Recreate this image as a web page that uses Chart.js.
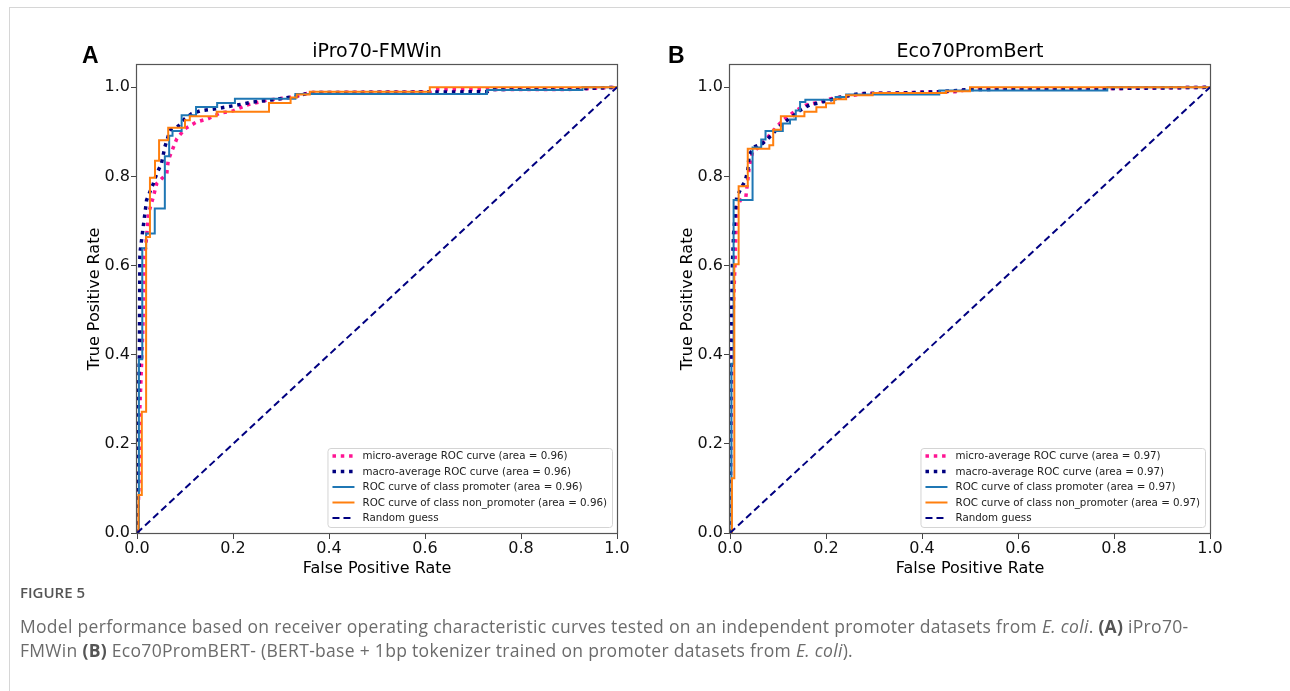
<!DOCTYPE html>
<html>
<head>
<meta charset="utf-8">
<script src="https://cdn.jsdelivr.net/npm/chart.js"></script>
<style>
  html, body { margin: 0; padding: 0; background: #fff; }
  #page { position: relative; width: 1290px; height: 691px; overflow: hidden; }
  #frame { position: absolute; left: 9px; top: 7px; right: 0; bottom: 0;
           border-top: 1px solid #d6d6d6; border-left: 1px solid #d6d6d6; }
  canvas { position: absolute; top: 0; }
  #caption { position: absolute; left: 20px; top: 580px; width: 1260px;
             font-family: "Open Sans", sans-serif; color: #6b6b6b; }
  #caption .head { font-size: 15px; font-weight: 600; color: #555; line-height: 24px; }
  #caption .body { font-size: 17.5px; letter-spacing: 0.3px; line-height: 24px; margin-top: 10px; white-space: nowrap; }
  #caption b { color: #555; }
</style>
</head>
<body>
<div id="page">
  <div id="frame"></div>
  <canvas id="chartA" width="645" height="600" style="left:0px"></canvas>
  <canvas id="chartB" width="645" height="600" style="left:645px"></canvas>
  <div id="caption">
    <div class="head">FIGURE 5</div>
    <div class="body">Model performance based on receiver operating characteristic curves tested on an independent promoter datasets from <i>E. coli</i>. <b>(A)</b> iPro70-<br>FMWin <b>(B)</b> Eco70PromBERT- (BERT-base + 1bp tokenizer trained on promoter datasets from <i>E. coli</i>).</div>
  </div>
</div>
<script>
// tick labels
const xTickValues = [0, 0.2, 0.4, 0.6, 0.8, 1.0];
const yTickValues = [0, 0.2, 0.4, 0.6, 0.8, 1.0];

const seriesNames = ['micro-average ROC curve', 'macro-average ROC curve',
  'ROC curve of class promoter', 'ROC curve of class non_promoter', 'Random guess'];

// --- panel A: iPro70-FMWin ---
const areasA = [0.96, 0.96, 0.96, 0.96];
const microA_fpr = [0, 0.004, 0.006, 0.012, 0.016, 0.02, 0.024, 0.034, 0.041, 0.062, 0.065, 0.076, 0.083, 0.1, 0.124, 0.149, 0.173, 0.2, 0.228, 0.27, 0.326, 0.36, 0.61, 0.62, 0.9, 1];
const microA_tpr = [0, 0.1, 0.28, 0.45, 0.62, 0.664, 0.717, 0.754, 0.784, 0.806, 0.836, 0.866, 0.885, 0.907, 0.922, 0.93, 0.942, 0.947, 0.96, 0.971, 0.978, 0.988, 0.99, 0.995, 0.995, 1];
const macroA_fpr = [0, 0.002, 0.005, 0.006, 0.013, 0.02, 0.034, 0.041, 0.051, 0.058, 0.069, 0.086, 0.1, 0.114, 0.131, 0.166, 0.208, 0.242, 0.284, 0.333, 0.36, 0.73, 0.74, 0.93, 1];
const macroA_tpr = [0, 0.25, 0.4, 0.627, 0.687, 0.747, 0.784, 0.806, 0.829, 0.866, 0.904, 0.913, 0.93, 0.941, 0.947, 0.952, 0.96, 0.967, 0.972, 0.98, 0.988, 0.99, 0.995, 0.997, 1];
const promA_fpr = [0, 0.004, 0.004, 0.011, 0.011, 0.019, 0.019, 0.037, 0.037, 0.058, 0.058, 0.067, 0.067, 0.074, 0.074, 0.093, 0.093, 0.123, 0.123, 0.167, 0.167, 0.204, 0.204, 0.33, 0.33, 0.729, 0.729, 0.928, 0.928, 1];
const promA_tpr = [0, 0, 0.39, 0.39, 0.639, 0.639, 0.672, 0.672, 0.728, 0.728, 0.845, 0.845, 0.891, 0.891, 0.902, 0.902, 0.937, 0.937, 0.956, 0.956, 0.965, 0.965, 0.974, 0.974, 0.985, 0.985, 0.994, 0.994, 1, 1];
const nonA_fpr = [0, 0.003, 0.003, 0.01, 0.01, 0.019, 0.019, 0.027, 0.027, 0.0375, 0.0375, 0.046, 0.046, 0.065, 0.065, 0.1, 0.1, 0.11, 0.11, 0.166, 0.166, 0.275, 0.275, 0.32, 0.32, 0.333, 0.333, 0.36, 0.36, 0.61, 0.61, 1];
const nonA_tpr = [0, 0, 0.085, 0.085, 0.272, 0.272, 0.664, 0.664, 0.797, 0.797, 0.835, 0.835, 0.881, 0.881, 0.909, 0.909, 0.926, 0.926, 0.935, 0.935, 0.945, 0.945, 0.965, 0.965, 0.977, 0.977, 0.984, 0.984, 0.99, 0.99, 1, 1];

// --- panel B: Eco70PromBert ---
const areasB = [0.97, 0.97, 0.97, 0.97];
const microB_fpr = [0, 0.002, 0.004, 0.01, 0.012, 0.014, 0.022, 0.033, 0.037, 0.04, 0.047, 0.061, 0.072, 0.082, 0.096, 0.11, 0.124, 0.137, 0.158, 0.186, 0.213, 0.242, 0.283, 0.353, 0.422, 0.47, 0.5, 0.78, 1];
const microB_tpr = [0, 0.2, 0.42, 0.59, 0.657, 0.732, 0.747, 0.754, 0.791, 0.821, 0.855, 0.866, 0.881, 0.892, 0.91, 0.926, 0.937, 0.948, 0.96, 0.967, 0.975, 0.98, 0.986, 0.987, 0.99, 0.99, 0.996, 0.997, 1];
const macroB_fpr = [0, 0.002, 0.005, 0.0075, 0.011, 0.014, 0.023, 0.032, 0.037, 0.04, 0.05, 0.068, 0.082, 0.096, 0.11, 0.127, 0.144, 0.165, 0.186, 0.227, 0.27, 0.353, 0.436, 0.5, 0.786, 1];
const macroB_tpr = [0, 0.4, 0.6, 0.672, 0.717, 0.754, 0.773, 0.791, 0.814, 0.848, 0.866, 0.874, 0.888, 0.904, 0.919, 0.932, 0.947, 0.96, 0.965, 0.977, 0.986, 0.987, 0.99, 0.995, 0.997, 1];
const promB_fpr = [0, 0.003, 0.003, 0.0075, 0.0075, 0.047, 0.047, 0.065, 0.065, 0.074, 0.074, 0.11, 0.11, 0.125, 0.125, 0.137, 0.137, 0.146, 0.146, 0.157, 0.157, 0.22, 0.22, 0.242, 0.242, 0.436, 0.436, 0.786, 0.786, 1];
const promB_tpr = [0, 0, 0.38, 0.38, 0.747, 0.747, 0.865, 0.865, 0.883, 0.883, 0.902, 0.902, 0.919, 0.919, 0.928, 0.928, 0.948, 0.948, 0.967, 0.967, 0.972, 0.972, 0.978, 0.978, 0.984, 0.984, 0.993, 0.993, 1, 1];
const nonB_fpr = [0, 0.004, 0.004, 0.009, 0.009, 0.018, 0.018, 0.037, 0.037, 0.082, 0.082, 0.09, 0.09, 0.106, 0.106, 0.155, 0.155, 0.18, 0.18, 0.2, 0.2, 0.217, 0.217, 0.242, 0.242, 0.297, 0.297, 0.45, 0.45, 0.5, 0.5, 1];
const nonB_tpr = [0, 0, 0.123, 0.123, 0.603, 0.603, 0.778, 0.778, 0.862, 0.862, 0.87, 0.87, 0.905, 0.905, 0.935, 0.935, 0.945, 0.945, 0.955, 0.955, 0.964, 0.964, 0.973, 0.973, 0.982, 0.982, 0.987, 0.987, 0.991, 0.991, 1, 1];

const guess_fpr = [0, 1];
const guess_tpr = [0, 1];

const FONT = '"DejaVu Sans", sans-serif';
const CANVAS_W = 645, CANVAS_H = 600;
const PLOT_TOP = 65, PLOT_BOTTOM = 533;

function pts(xs, ys) {
    return xs.map((x, i) => ({ x: x, y: ys[i] }));
}

// title, panel letter, axis titles, frame and the legend box
const panelDecor = {
    id: 'panelDecor',
    afterDatasetsDraw(chart, args, opts) {
        const ctx = chart.ctx;
        const a = chart.chartArea;
        ctx.save();
        ctx.strokeStyle = '#555';
        ctx.lineWidth = 1.2;
        ctx.strokeRect(Math.round(a.left) - 0.5, Math.round(a.top) - 0.5,
            Math.round(a.right - a.left) + 1, Math.round(a.bottom - a.top) + 1);
        ctx.restore();
    },
    afterDraw(chart, args, opts) {
        const ctx = chart.ctx;
        const a = chart.chartArea;
        ctx.save();
        ctx.fillStyle = '#000';
        // panel letter
        ctx.font = 'bold 23px "Liberation Sans", Arial, sans-serif';
        ctx.textAlign = 'left';
        ctx.textBaseline = 'alphabetic';
        ctx.fillText(opts.letter, opts.letterX, 63);
        // title
        ctx.font = '19px ' + FONT;
        ctx.textAlign = 'center';
        ctx.fillText(opts.title, (a.left + a.right) / 2, 57);
        // axis titles
        ctx.font = '16px ' + FONT;
        ctx.fillText('False Positive Rate', (a.left + a.right) / 2, 573);
        ctx.save();
        ctx.translate(a.left - 38, (a.top + a.bottom) / 2);
        ctx.rotate(-Math.PI / 2);
        ctx.fillText('True Positive Rate', 0, 0);
        ctx.restore();

        // legend
        const ds = chart.data.datasets;
        ctx.font = '10.3px ' + FONT;
        let maxW = 0;
        ds.forEach(d => { maxW = Math.max(maxW, ctx.measureText(d.label).width); });
        const boxW = 35 + maxW + 5;
        const boxH = 79;
        const bx = a.right - 5 - boxW;
        const by = a.bottom - 6 - boxH;
        ctx.beginPath();
        ctx.roundRect(bx + 0.5, by + 0.5, boxW, boxH, 3);
        ctx.fillStyle = 'rgba(255,255,255,0.85)';
        ctx.fill();
        ctx.strokeStyle = '#d4d4d4';
        ctx.lineWidth = 1;
        ctx.stroke();
        ds.forEach((d, i) => {
            const ry = by + 8 + i * 15.5;
            ctx.beginPath();
            ctx.setLineDash(d.borderDash || []);
            ctx.lineWidth = d.borderWidth;
            ctx.strokeStyle = d.borderColor;
            ctx.moveTo(bx + 5, ry);
            ctx.lineTo(bx + 27, ry);
            ctx.stroke();
            ctx.setLineDash([]);
            ctx.fillStyle = '#222';
            ctx.textAlign = 'left';
            ctx.textBaseline = 'middle';
            ctx.fillText(d.label, bx + 35, ry + 0.5);
        });
        ctx.restore();
    }
};

function makePanel(canvasId, letter, letterX, title, plotLeft, plotRight, series, areas) {
    const colors = ['deeppink', 'navy', '#1f77b4', '#ff7f0e', 'navy'];
    const widths = [3.5, 3.5, 2, 2, 2];
    const dashes = [[3.5, 4.8], [3.5, 4.8], [], [], [7, 4]];
    const datasets = series.map((s, i) => ({
        label: i < 4 ? `${seriesNames[i]} (area = ${areas[i].toFixed(2)})` : seriesNames[i],
        data: pts(s[0], s[1]),
        borderColor: colors[i],
        borderWidth: widths[i],
        borderDash: dashes[i],
        pointRadius: 0,
        fill: false,
        tension: 0,
        order: 5 - i
    }));

    const tickStyle = { font: { family: FONT, size: 16 }, color: '#111' };

    return new Chart(document.getElementById(canvasId), {
        type: 'line',
        data: { datasets: datasets },
        options: {
            responsive: false,
            animation: false,
            layout: { padding: { left: 0, top: PLOT_TOP, right: CANVAS_W - plotRight, bottom: 0 } },
            plugins: {
                legend: { display: false },
                tooltip: { enabled: false },
                panelDecor: { letter: letter, letterX: letterX, title: title }
            },
            scales: {
                x: {
                    type: 'linear', min: 0, max: 1,
                    afterBuildTicks: s => { s.ticks = xTickValues.map(v => ({ value: v })); },
                    afterFit: s => { s.height = CANVAS_H - PLOT_BOTTOM; },
                    ticks: Object.assign({ padding: 0, maxRotation: 0, callback: v => v.toFixed(1) }, tickStyle),
                    grid: { drawOnChartArea: false, drawTicks: true, tickLength: 6, color: '#444' },
                    border: { display: false }
                },
                y: {
                    type: 'linear', min: 0, max: 1.05,
                    afterBuildTicks: s => { s.ticks = yTickValues.map(v => ({ value: v })); },
                    afterFit: s => { s.width = plotLeft; },
                    ticks: Object.assign({ padding: 1, callback: v => v.toFixed(1) }, tickStyle),
                    grid: { drawOnChartArea: false, drawTicks: true, tickLength: 6, color: '#444' },
                    border: { display: false }
                }
            }
        },
        plugins: [panelDecor]
    });
}

makePanel('chartA', 'A', 82, 'iPro70-FMWin', 137, 617, [
    [microA_fpr, microA_tpr], [macroA_fpr, macroA_tpr],
    [promA_fpr, promA_tpr], [nonA_fpr, nonA_tpr], [guess_fpr, guess_tpr]
], areasA);

makePanel('chartB', 'B', 668 - 645, 'Eco70PromBert', 730 - 645, 1210 - 645, [
    [microB_fpr, microB_tpr], [macroB_fpr, macroB_tpr],
    [promB_fpr, promB_tpr], [nonB_fpr, nonB_tpr], [guess_fpr, guess_tpr]
], areasB);
</script>
</body>
</html>
